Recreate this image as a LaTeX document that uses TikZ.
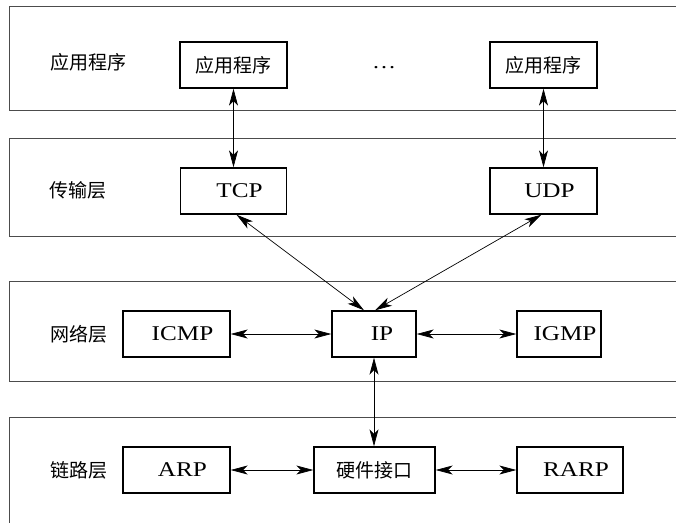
\documentclass[tikz,border=0pt]{standalone}
\usepackage{fontspec}
\setmainfont{Liberation Serif}[FakeStretch=1.2]
\newfontfamily\cjk{Noto Sans CJK SC}
\usetikzlibrary{arrows.meta}

\begin{document}
\begin{tikzpicture}[x=1pt,y=-1pt,
    layer/.style={draw=black!70,line width=0.9pt},
    box/.style={draw,line width=1.4pt,minimum height=46pt,inner sep=0pt},
    lbox/.style={box,font=\fontsize{21}{24}\selectfont,execute at begin node={\hspace*{12pt}}},
    cbox/.style={box,font=\cjk\fontsize{19}{24}\selectfont},
    layertitle/.style={font=\cjk\fontsize{19}{24}\selectfont},
    link/.style={{Stealth[length=17pt,width=9pt,inset=4.5pt]}-{Stealth[length=17pt,width=9pt,inset=4.5pt]},line width=0.7pt}]
  \useasboundingbox (0,0) rectangle (676,522);
  % the four layers
  \draw[layer] (678,6) -- (9,6) -- (9,110) -- (678,110);
  \draw[layer] (678,138) -- (9,138) -- (9,236) -- (678,236);
  \draw[layer] (678,281) -- (9,281) -- (9,381) -- (678,381);
  \draw[layer] (678,417) -- (9,417) -- (9,524);
  % layer names
  \node[layertitle] (lapp) at (88,62) {应用程序};
  \node[layertitle] (ltrans) at (78,190) {传输层};
  \node[layertitle] (lnet) at (79,334) {网络层};
  \node[layertitle] (llink) at (79,470) {链路层};
  % protocol boxes
  \node[cbox,minimum width=107pt] (app1) at (233.5,65) {应用程序};
  \node (dots) at (384,68) {\fontsize{20}{24}\selectfont\ldots};
  \node[cbox,minimum width=107pt] (app2) at (543.5,65) {应用程序};
  \node[lbox,minimum width=106pt] (tcp) at (233.5,191) {TCP};
  \node[lbox,minimum width=107pt] (udp) at (543.5,191) {UDP};
  \node[lbox,minimum width=107pt] (icmp) at (176.5,334) {ICMP};
  \node[lbox,minimum width=84pt,execute at begin node={\hspace*{4pt}}] (ip) at (374,334) {IP};
  \node[lbox,minimum width=84pt] (igmp) at (559,334) {IGMP};
  \node[lbox,minimum width=107pt] (arp) at (176.5,470) {ARP};
  \node[cbox,minimum width=121pt] (hw) at (374.5,470) {硬件接口};
  \node[lbox,minimum width=106pt] (rarp) at (570,470) {RARP};
  % links
  \draw[link] (app1) -- (tcp);
  \draw[link] (app2) -- (udp);
  \draw[link] ([xshift=3pt]tcp.south) -- ([xshift=-10pt]ip.north);
  \draw[link] ([xshift=-2pt]udp.south) -- ([xshift=1pt]ip.north);
  \draw[link] (icmp) -- (ip);
  \draw[link] (ip) -- (igmp);
  \draw[link] (ip.south) -- (ip.south |- hw.north);
  \draw[link] (arp) -- (hw);
  \draw[link] (hw) -- (rarp);
\end{tikzpicture}
\end{document}
